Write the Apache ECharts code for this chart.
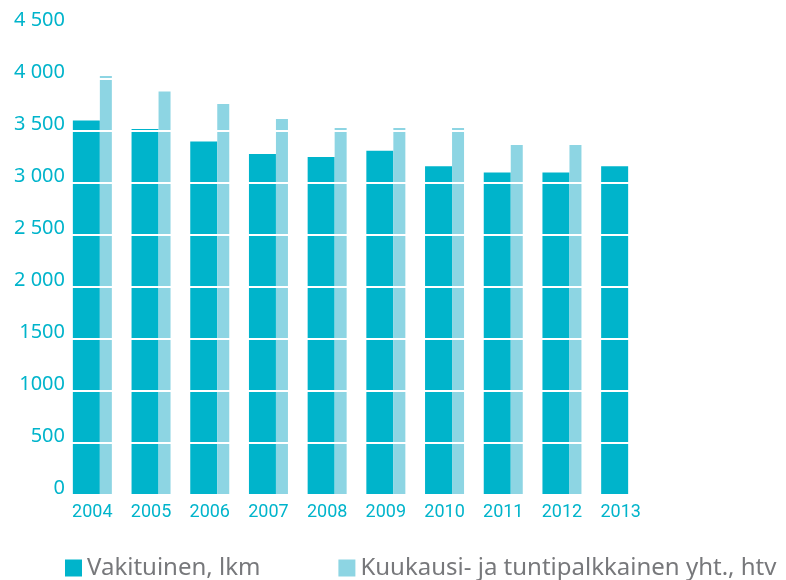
<!DOCTYPE html>
<html>
<head>
<meta charset="utf-8">
<script src="https://cdn.jsdelivr.net/npm/echarts@6/dist/echarts.min.js"></script>
<style>
  html, body { margin: 0; padding: 0; background: #fff; }
  #chart { width: 786px; height: 580px; }
</style>
</head>
<body>
<div id="chart"></div>
<script>
const years = ['2004', '2005', '2006', '2007', '2008', '2009', '2010', '2011', '2012', '2013'];
const vakituinen = [3600, 3520, 3400, 3280, 3250, 3310, 3160, 3100, 3100, 3160];
const kuukausi = [4030, 3880, 3760, 3615, 3530, 3530, 3530, 3365, 3365, null];
const yTickLabels = {
  0: '0', 500: '500', 1000: '1000', 1500: '1500', 2000: '2 000',
  2500: '2 500', 3000: '3 000', 3500: '3 500', 4000: '4 000', 4500: '4 500'
};

const teal = '#00b4cb';
const lightTeal = '#8dd5e3';

const chart = echarts.init(document.getElementById('chart'));
chart.setOption({
  animation: false,
  grid: { left: 63, right: 136, top: 27, bottom: 85 },
  legend: {
    left: 60,
    top: 551,
    itemWidth: 17,
    itemHeight: 17,
    itemGap: 78,
    icon: 'rect',
    textStyle: { color: '#77787b', fontSize: 24, fontFamily: 'Noto Sans' },
    data: ['Vakituinen, lkm', 'Kuukausi- ja tuntipalkkainen yht., htv']
  },
  xAxis: {
    type: 'category',
    data: years,
    axisLine: { show: false },
    axisTick: { show: false },
    axisLabel: {
      color: teal,
      fontSize: 18,
      fontFamily: 'Roboto',
      margin: 8
    }
  },
  yAxis: {
    type: 'value',
    min: 0,
    max: 4500,
    interval: 500,
    z: 5,
    axisLine: { show: false },
    axisTick: { show: false },
    splitLine: { lineStyle: { color: '#ffffff', width: 2 } },
    axisLabel: {
      color: teal,
      fontSize: 20,
      fontFamily: 'Noto Sans',
      margin: -2,
      verticalAlign: 'bottom',
      lineHeight: 14,
      formatter: v => yTickLabels[v]
    }
  },
  series: [
    {
      name: 'Vakituinen, lkm',
      type: 'bar',
      data: vakituinen,
      barWidth: 27,
      barGap: '0%',
      itemStyle: { color: teal }
    },
    {
      name: 'Kuukausi- ja tuntipalkkainen yht., htv',
      type: 'bar',
      data: kuukausi,
      barWidth: 12,
      barGap: '0%',
      itemStyle: { color: lightTeal }
    }
  ]
});
</script>
</body>
</html>
